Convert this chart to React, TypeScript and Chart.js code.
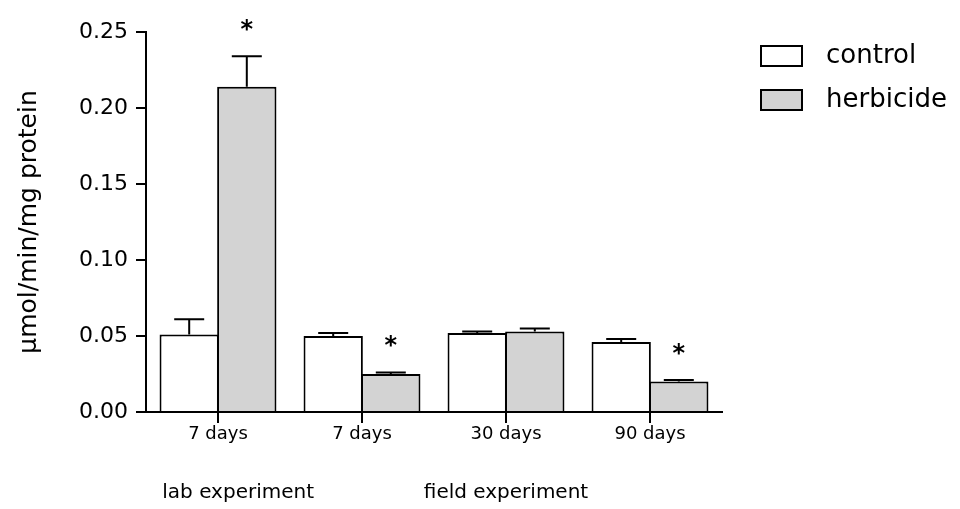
import React, { useEffect, useRef } from "react";
import { Chart, registerables } from "chart.js";

Chart.register(...registerables);

const categories = ["7 days", "7 days", "30 days", "90 days"];
const seriesNames = ["control", "herbicide"];
const controlValues = [0.051, 0.05, 0.052, 0.046];
const controlErrors = [0.01, 0.002, 0.001, 0.002];
const herbicideValues = [0.214, 0.025, 0.053, 0.02];
const herbicideErrors = [0.02, 0.001, 0.002, 0.001];
const herbicideSignificant = [true, true, false, true];
const yTickValues = [0, 0.05, 0.1, 0.15, 0.2, 0.25];
const groupLabels = ["lab experiment", "field experiment"];
const groupLabelIndex = [0.14, 2];

const FONT = "'DejaVu Sans', 'Liberation Sans', Arial, sans-serif";
const HERB_FILL = "#d3d3d3";

const errorsBySeries = [controlErrors, herbicideErrors];
const valuesBySeries = [controlValues, herbicideValues];

const decorPlugin = {
  id: "decor",
  afterDatasetsDraw(chart: any) {
    const ctx = chart.ctx;
    const yScale = chart.scales.y;
    ctx.save();
    ctx.strokeStyle = "#000";
    ctx.lineWidth = 2;
    for (let d = 0; d < 2; d++) {
      const meta = chart.getDatasetMeta(d);
      meta.data.forEach((bar: any, i: number) => {
        const v = valuesBySeries[d][i];
        const e = errorsBySeries[d][i];
        const top = yScale.getPixelForValue(v + e);
        const y0 = yScale.getPixelForValue(v);
        ctx.beginPath();
        ctx.moveTo(bar.x, y0);
        ctx.lineTo(bar.x, top);
        ctx.moveTo(bar.x - 15, top);
        ctx.lineTo(bar.x + 15, top);
        ctx.stroke();
      });
    }
    // significance asterisks
    const hMeta = chart.getDatasetMeta(1);
    ctx.fillStyle = "#000";
    ctx.font = `bold 24px ${FONT}`;
    ctx.textAlign = "center";
    ctx.textBaseline = "alphabetic";
    herbicideSignificant.forEach((sig, i) => {
      if (!sig) return;
      const bar = hMeta.data[i];
      const top = yScale.getPixelForValue(herbicideValues[i] + herbicideErrors[i]);
      ctx.fillText("*", bar.x, top - 19);
    });
    ctx.restore();
  },
  afterDraw(chart: any) {
    const ctx = chart.ctx;
    const xScale = chart.scales.x;
    const area = chart.chartArea;
    ctx.save();
    // group labels below axis
    ctx.fillStyle = "#000";
    ctx.font = `20px ${FONT}`;
    ctx.textAlign = "center";
    ctx.textBaseline = "middle";
    groupLabels.forEach((lab, i) => {
      ctx.fillText(lab, xScale.getPixelForValue(groupLabelIndex[i]), area.bottom + 81);
    });
    // legend
    const fills = ["#ffffff", HERB_FILL];
    ctx.lineWidth = 2;
    ctx.strokeStyle = "#000";
    ctx.font = `26px ${FONT}`;
    ctx.textAlign = "left";
    ctx.textBaseline = "middle";
    seriesNames.forEach((name, i) => {
      const bx = area.right + 39;
      const by = 46 + i * 44;
      ctx.fillStyle = fills[i];
      ctx.fillRect(bx, by, 41, 20);
      ctx.strokeRect(bx, by, 41, 20);
      ctx.fillStyle = "#000";
      ctx.fillText(name, area.right + 104, by + 10);
    });
    ctx.restore();
  },
};

export default function App() {
  const canvasRef = useRef<HTMLCanvasElement | null>(null);

  useEffect(() => {
    document.body.style.margin = "0";
    const canvas = canvasRef.current;
    if (!canvas) return;
    const chart = new Chart(canvas, {
      type: "bar",
      data: {
        labels: categories,
        datasets: [
          {
            label: seriesNames[0],
            data: controlValues,
            backgroundColor: "#ffffff",
            borderColor: "#000",
            borderWidth: { top: 2, left: 2, right: 2, bottom: 0 },
            borderSkipped: false,
          },
          {
            label: seriesNames[1],
            data: herbicideValues,
            backgroundColor: HERB_FILL,
            borderColor: "#000",
            borderWidth: { top: 2, left: 2, right: 2, bottom: 0 },
            borderSkipped: false,
          },
        ],
      },
      options: {
        responsive: false,
        animation: false,
        layout: { padding: { top: 32, right: 238, bottom: 0, left: 0 } },
        datasets: { bar: { categoryPercentage: 0.8, barPercentage: 1.03, inflateAmount: 0 } },
        plugins: {
          legend: { display: false },
          tooltip: { enabled: false },
          title: { display: false },
        },
        scales: {
          x: {
            z: 1,
            offset: true,
            grid: {
              offset: false,
              drawOnChartArea: false,
              drawTicks: true,
              tickLength: 11,
              color: "#000",
              lineWidth: 2,
            },
            border: { color: "#000", width: 2 },
            ticks: { color: "#000", font: { family: FONT, size: 18 }, padding: 1, maxRotation: 0 },
            afterFit(scale: any) {
              scale.height = 97;
            },
          },
          y: {
            z: 1,
            min: 0,
            max: 0.25,
            afterBuildTicks(scale: any) {
              scale.ticks = yTickValues.map((v) => ({ value: v }));
            },
            grid: {
              drawOnChartArea: false,
              drawTicks: true,
              tickLength: 10,
              color: "#000",
              lineWidth: 2,
            },
            border: { color: "#000", width: 2 },
            ticks: {
              color: "#000",
              font: { family: FONT, size: 22 },
              padding: 8,
              callback: (v: any) => Number(v).toFixed(2),
            },
            title: {
              display: true,
              text: "µmol/min/mg protein",
              color: "#000",
              font: { family: FONT, size: 25 },
              padding: { top: 14, bottom: 0 },
            },
            afterFit(scale: any) {
              scale.width = 146;
            },
          },
        },
      },
      plugins: [decorPlugin],
    });
    return () => chart.destroy();
  }, []);

  return (
    <div style={{ width: 960, height: 509, background: "#fff" }}>
      <canvas ref={canvasRef} width={960} height={509} style={{ display: "block" }} />
    </div>
  );
}
